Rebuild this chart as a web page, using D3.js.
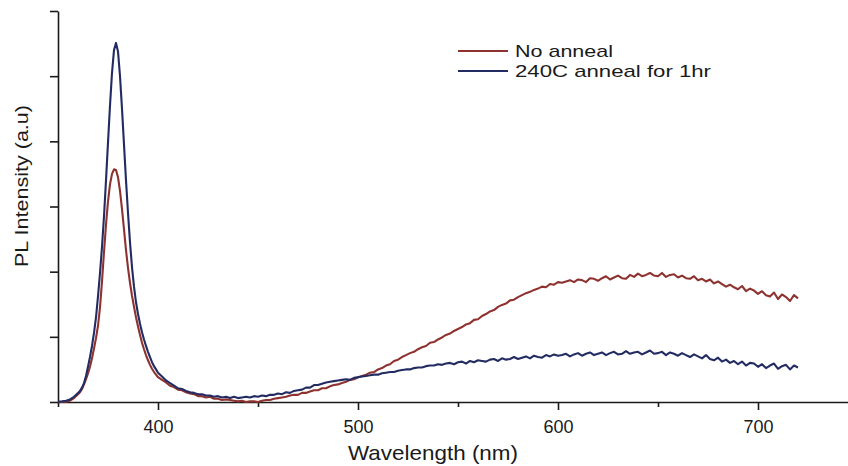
<!DOCTYPE html>
<html>
<head>
<meta charset="utf-8">
<script src="https://cdn.jsdelivr.net/npm/d3@7"></script>
<style>
  body { margin: 0; background: #fff; }
  svg { display: block; font-family: Arial, "Liberation Sans", sans-serif; }
</style>
</head>
<body>
<div id="chart"></div>
<script>
// PL spectra (intensity in arbitrary units, 1 unit = one y tick)
const wavelength = [
  350, 352, 354, 356, 358, 360,
  361, 362, 363, 364, 365, 366, 367, 368, 369, 370,
  371, 372, 373, 374, 375, 376, 377, 378, 379, 380,
  381, 382, 383, 384, 385, 386, 387, 388, 389, 390,
  391, 392, 393, 394, 395, 396, 397, 398, 399, 400,
  402, 404, 406, 408, 410, 412, 414, 416, 418, 420,
  422, 424, 426, 428, 430, 432, 434, 436, 438, 440,
  442, 444, 446, 448, 450, 452, 454, 456, 458, 460,
  462, 464, 466, 468, 470, 472, 474, 476, 478, 480,
  482, 484, 486, 488, 490, 492, 494, 496, 498, 500,
  502, 504, 506, 508, 510, 512, 514, 516, 518, 520,
  522, 524, 526, 528, 530, 532, 534, 536, 538, 540,
  542, 544, 546, 548, 550, 552, 554, 556, 558, 560,
  562, 564, 566, 568, 570, 572, 574, 576, 578, 580,
  582, 584, 586, 588, 590, 592, 594, 596, 598, 600,
  602, 604, 606, 608, 610, 612, 614, 616, 618, 620,
  622, 624, 626, 628, 630, 632, 634, 636, 638, 640,
  642, 644, 646, 648, 650, 652, 654, 656, 658, 660,
  662, 664, 666, 668, 670, 672, 674, 676, 678, 680,
  682, 684, 686, 688, 690, 692, 694, 696, 698, 700,
  702, 704, 706, 708, 710, 712, 714, 716, 718, 720
];

const noAnneal = [
  0.00, 0.00, 0.005, 0.02, 0.06, 0.12,
  0.15, 0.20, 0.27, 0.35, 0.44, 0.54, 0.67, 0.82, 0.98, 1.17,
  1.45, 1.85, 2.30, 2.72, 3.08, 3.34, 3.50, 3.57, 3.56, 3.45,
  3.24, 2.96, 2.65, 2.33, 2.06, 1.83, 1.63, 1.46, 1.30, 1.16,
  1.03, 0.91, 0.81, 0.72, 0.64, 0.57, 0.51, 0.46, 0.42, 0.38,
  0.34, 0.30, 0.25, 0.23, 0.19, 0.18, 0.15, 0.13, 0.12, 0.09,
  0.09, 0.07, 0.08, 0.05, 0.05, 0.03, 0.04, 0.03, 0.02, 0.01,
  0.02, 0.00, 0.01, 0.01, 0.00, 0.02, 0.03, 0.03, 0.05, 0.06,
  0.07, 0.08, 0.10, 0.11, 0.11, 0.14, 0.14, 0.16, 0.18, 0.18,
  0.21, 0.21, 0.24, 0.26, 0.27, 0.29, 0.31, 0.34, 0.35, 0.38,
  0.40, 0.42, 0.45, 0.46, 0.50, 0.52, 0.56, 0.58, 0.63, 0.65,
  0.69, 0.72, 0.75, 0.77, 0.81, 0.84, 0.86, 0.91, 0.92, 0.96,
  0.99, 1.03, 1.05, 1.09, 1.12, 1.15, 1.19, 1.21, 1.26, 1.27,
  1.32, 1.35, 1.39, 1.41, 1.46, 1.49, 1.51, 1.56, 1.57, 1.61,
  1.64, 1.67, 1.69, 1.72, 1.74, 1.77, 1.76, 1.81, 1.80, 1.84,
  1.83, 1.85, 1.87, 1.84, 1.88, 1.87, 1.84, 1.90, 1.89, 1.86,
  1.90, 1.93, 1.88, 1.91, 1.94, 1.90, 1.89, 1.95, 1.92, 1.97,
  1.93, 1.95, 1.98, 1.94, 1.93, 1.98, 1.92, 1.95, 1.96, 1.91,
  1.94, 1.90, 1.89, 1.93, 1.87, 1.89, 1.85, 1.88, 1.82, 1.85,
  1.81, 1.77, 1.80, 1.76, 1.73, 1.78, 1.70, 1.74, 1.71, 1.66,
  1.70, 1.64, 1.62, 1.68, 1.58, 1.65, 1.61, 1.55, 1.64, 1.59
];

const anneal240 = [
  0.005, 0.01, 0.02, 0.04, 0.08, 0.14,
  0.17, 0.22, 0.29, 0.40, 0.54, 0.69, 0.86, 1.06, 1.30, 1.62,
  1.98, 2.38, 2.85, 3.40, 3.98, 4.55, 5.05, 5.40, 5.51, 5.38,
  5.00, 4.50, 3.95, 3.40, 2.90, 2.45, 2.07, 1.77, 1.53, 1.35,
  1.20, 1.07, 0.96, 0.86, 0.77, 0.69, 0.61, 0.55, 0.50, 0.45,
  0.39, 0.33, 0.29, 0.25, 0.21, 0.20, 0.17, 0.15, 0.14, 0.12,
  0.12, 0.10, 0.10, 0.08, 0.09, 0.07, 0.08, 0.06, 0.08, 0.06,
  0.07, 0.08, 0.07, 0.09, 0.08, 0.10, 0.09, 0.11, 0.11, 0.13,
  0.12, 0.15, 0.14, 0.17, 0.18, 0.19, 0.22, 0.22, 0.26, 0.26,
  0.28, 0.30, 0.31, 0.32, 0.33, 0.34, 0.35, 0.34, 0.37, 0.38,
  0.39, 0.40, 0.41, 0.42, 0.42, 0.44, 0.45, 0.46, 0.46, 0.48,
  0.49, 0.50, 0.50, 0.52, 0.53, 0.53, 0.55, 0.56, 0.56, 0.58,
  0.57, 0.59, 0.60, 0.58, 0.61, 0.62, 0.59, 0.63, 0.61, 0.64,
  0.63, 0.62, 0.65, 0.66, 0.63, 0.67, 0.65, 0.66, 0.69, 0.66,
  0.68, 0.70, 0.67, 0.71, 0.69, 0.68, 0.72, 0.70, 0.73, 0.71,
  0.72, 0.74, 0.70, 0.73, 0.75, 0.71, 0.74, 0.76, 0.72, 0.74,
  0.76, 0.72, 0.75, 0.77, 0.73, 0.74, 0.78, 0.74, 0.76, 0.77,
  0.73, 0.76, 0.79, 0.74, 0.75, 0.77, 0.72, 0.76, 0.74, 0.71,
  0.75, 0.72, 0.69, 0.73, 0.70, 0.67, 0.72, 0.66, 0.64, 0.68,
  0.62, 0.65, 0.60, 0.63, 0.58, 0.62, 0.56, 0.60, 0.59, 0.54,
  0.58, 0.52, 0.56, 0.59, 0.51, 0.55, 0.57, 0.50, 0.56, 0.53
];

const xMajorTicks = [400, 500, 600, 700];
const xAllTicks = [350, 400, 450, 500, 550, 600, 650, 700, 750];
const yTicks = [0, 1, 2, 3, 4, 5, 6];
const seriesNames = ["No anneal", "240C anneal for 1hr"];
const seriesColors = ["#8e3230", "#232c62"];

const width = 848, height = 466;

const svg = d3.select("#chart").append("svg")
    .attr("width", width)
    .attr("height", height);

const x = d3.scaleLinear().domain([350, 750]).range([58, 858]);
const y = d3.scaleLinear().domain([0, 6]).range([402, 11]);

// x axis, minor ticks are shorter and have no label
const xAxis = svg.append("g")
    .attr("transform", "translate(0,402)")
    .call(d3.axisBottom(x)
        .tickValues(xAllTicks)
        .tickSize(8)
        .tickSizeOuter(0)
        .tickPadding(10)
        .tickFormat(d => xMajorTicks.includes(d) ? d : ""));
xAxis.selectAll(".tick line")
    .attr("y2", d => xMajorTicks.includes(d) ? 8 : 5);

const yAxis = svg.append("g")
    .attr("transform", "translate(58,0)")
    .call(d3.axisLeft(y)
        .tickValues(yTicks)
        .tickSize(8)
        .tickSizeOuter(0)
        .tickFormat(""));

svg.selectAll(".domain, .tick line")
    .attr("stroke", "#1a1a1a")
    .attr("stroke-width", 1.6);
xAxis.selectAll("text")
    .attr("font-size", 18)
    .attr("fill", "#1a1a1a");

// spectra
const series = [noAnneal, anneal240];
const line = d3.line()
    .x((d, i) => x(wavelength[i]))
    .y(d => y(d));

svg.selectAll("path.spectrum")
    .data(series)
    .enter()
    .append("path")
    .attr("class", "spectrum")
    .attr("d", line)
    .attr("fill", "none")
    .attr("stroke", (d, i) => seriesColors[i])
    .attr("stroke-width", 2.1)
    .attr("stroke-linejoin", "round");

// axis titles
svg.append("text")
    .attr("x", 433)
    .attr("y", 460)
    .attr("text-anchor", "middle")
    .attr("font-size", 21)
    .attr("textLength", 170)
    .attr("lengthAdjust", "spacingAndGlyphs")
    .attr("fill", "#1a1a1a")
    .text("Wavelength (nm)");

svg.append("text")
    .attr("transform", "translate(28,186) rotate(-90)")
    .attr("text-anchor", "middle")
    .attr("font-size", 19)
    .attr("textLength", 162)
    .attr("lengthAdjust", "spacingAndGlyphs")
    .attr("fill", "#1a1a1a")
    .text("PL Intensity (a.u)");

// legend
const legendY = [51, 71];
const legendW = [98, 196];
seriesNames.forEach(function (name, i) {
    svg.append("line")
        .attr("x1", 458)
        .attr("x2", 508)
        .attr("y1", legendY[i])
        .attr("y2", legendY[i])
        .attr("stroke", seriesColors[i])
        .attr("stroke-width", 1.8);
    svg.append("text")
        .attr("x", 515)
        .attr("y", legendY[i] + 6)
        .attr("font-size", 17)
        .attr("textLength", legendW[i])
        .attr("lengthAdjust", "spacingAndGlyphs")
        .attr("fill", "#1a1a1a")
        .text(name);
});
</script>
</body>
</html>
